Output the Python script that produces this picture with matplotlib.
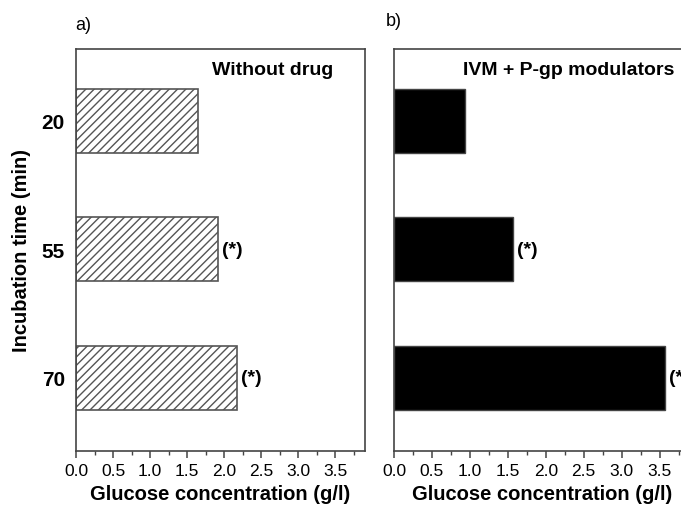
import numpy as np
import matplotlib
matplotlib.use("Agg")
import matplotlib.pyplot as plt
from matplotlib.ticker import MultipleLocator

plt.rcParams["font.family"] = ["Liberation Sans", "DejaVu Sans"]
plt.rcParams["hatch.linewidth"] = 1.0
plt.rcParams["hatch.color"] = "#333333"

times = ["20", "55", "70"]
without_drug = [1.65, 1.92, 2.17]
ivm_pgp = [0.93, 1.57, 3.57]
signif = ["", "(*)", "(*)"]

fig = plt.figure(figsize=(6.81, 5.10), dpi=100)
W, H = 681, 510
ax1 = fig.add_axes([76 / W, 1 - 452 / H, 289 / W, 402 / H])
ax2 = fig.add_axes([394 / W, 1 - 452 / H, 296 / W, 402 / H])

y = np.arange(len(times))
spine_col = "#444444"

for ax, vals in [(ax1, without_drug), (ax2, ivm_pgp)]:
    if ax is ax1:
        ax.barh(y, vals, height=0.5, color="white", edgecolor="#555555",
                hatch="////", linewidth=1.2)
    else:
        ax.barh(y, vals, height=0.5, color="black", edgecolor="#444444",
                linewidth=1.0)
    for yi, v, s in zip(y, vals, signif):
        if s:
            ax.text(v + 0.05, yi, s, ha="left", va="center",
                    fontsize=14, fontweight="bold")
    ax.set_xlim(0, 3.9)
    ax.set_ylim(2.57, -0.56)
    ax.xaxis.set_major_locator(MultipleLocator(0.5))
    ax.xaxis.set_minor_locator(MultipleLocator(0.25))
    ax.xaxis.set_major_formatter(plt.FormatStrFormatter("%.1f"))
    ax.tick_params(axis="x", which="major", direction="out", length=5,
                   width=1.1, color=spine_col, labelsize=12.5, pad=4)
    ax.tick_params(axis="x", which="minor", direction="out", length=3,
                   width=1.0, color=spine_col)
    ax.tick_params(axis="y", length=0)
    for sp in ax.spines.values():
        sp.set_color(spine_col)
        sp.set_linewidth(1.2)
    ax.set_xlabel("Glucose concentration (g/l)", fontsize=14.5,
                  fontweight="bold", labelpad=4)

ax1.set_yticks(y)
ax1.set_yticklabels(times, fontsize=15, fontweight="bold")
ax1.tick_params(axis="y", pad=8)
ax1.set_ylabel("Incubation time (min)", fontsize=14.5, fontweight="bold",
               labelpad=8)
ax2.set_yticks([])

ax1.text(0.89, 0.95, "Without drug", transform=ax1.transAxes,
         ha="right", va="center", fontsize=14, fontweight="bold")
ax2.text(0.233, 0.95, "IVM + P-gp modulators", transform=ax2.transAxes,
         ha="left", va="center", fontsize=14, fontweight="bold")

fig.text(75 / W, 1 - 25 / H, "a)", ha="left", va="center", fontsize=13)
fig.text(386 / W, 1 - 22 / H, "b)", ha="left", va="center", fontsize=13)

plt.savefig("out.png", dpi=100)
